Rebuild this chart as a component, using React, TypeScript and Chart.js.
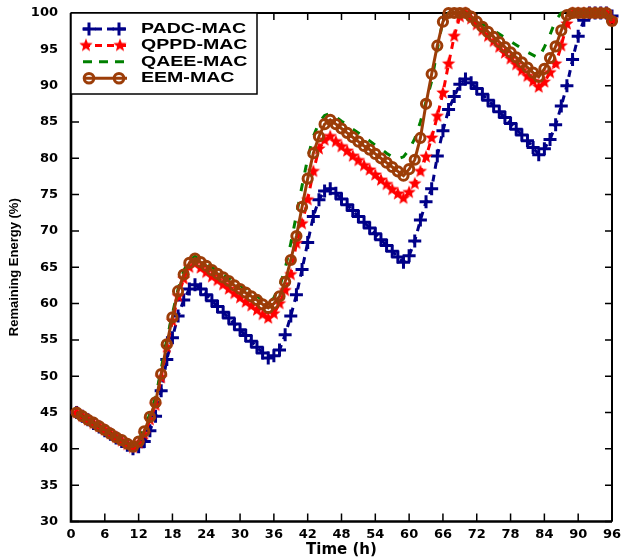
import React, { useEffect, useRef } from 'react';
import { Chart, registerables } from 'chart.js';

Chart.register(...registerables);

// Hours at which each protocol's remaining energy was sampled
const hours = [
  1, 2, 3, 4, 5, 6, 7, 8, 9, 10, 11, 12, 13, 14, 15, 16, 17, 18, 19, 20,
  21, 22, 23, 24, 25, 26, 27, 28, 29, 30, 31, 32, 33, 34, 35, 36, 37, 38, 39, 40,
  41, 42, 43, 44, 45, 46, 47, 48, 49, 50, 51, 52, 53, 54, 55, 56, 57, 58, 59, 60,
  61, 62, 63, 64, 65, 66, 67, 68, 69, 70, 71, 72, 73, 74, 75, 76, 77, 78, 79, 80,
  81, 82, 83, 84, 85, 86, 87, 88, 89, 90, 91, 92, 93, 94, 95, 96,
];

// Remaining energy (%) per protocol
const padcMac = [
  45.0, 44.5, 44.0, 43.5, 43.0, 42.5, 42.0, 41.5, 41.0, 40.5,
  40.0, 40.3, 41.0, 42.5, 44.5, 48.0, 52.3, 55.3, 58.3, 60.5,
  62.0, 62.6, 62.0, 61.2, 60.4, 59.6, 58.8, 58.0, 57.2, 56.4,
  55.6, 54.8, 54.0, 53.2, 52.5, 52.8, 53.6, 55.7, 58.3, 61.2,
  64.7, 68.4, 72.0, 74.3, 75.5, 75.8, 75.2, 74.4, 73.6, 72.8,
  72.0, 71.2, 70.4, 69.6, 68.8, 68.0, 67.2, 66.4, 65.7, 66.6,
  68.6, 71.5, 74.0, 75.8, 80.3, 83.8, 86.7, 88.5, 90.2, 90.9,
  90.4, 89.6, 88.8, 88.0, 87.2, 86.4, 85.6, 84.8, 84.0, 83.2,
  82.4, 81.5, 80.5, 81.3, 82.6, 84.6, 87.2, 90.0, 93.6, 96.8,
  99.0, 100, 100, 100, 100, 99.6,
];

const qppdMac = [
  45.0, 44.5, 44.0, 43.5, 43.1, 42.6, 42.1, 41.6, 41.1, 40.6,
  40.2, 40.8, 42.0, 44.0, 46.0, 49.8, 54.0, 57.6, 61.0, 63.4,
  65.0, 65.5, 64.9, 64.3, 63.7, 63.2, 62.6, 62.0, 61.4, 60.8,
  60.2, 59.7, 59.1, 58.5, 58.0, 58.6, 60.0, 61.8, 64.0, 68.3,
  71.0, 74.3, 78.2, 81.3, 82.5, 83.0, 82.3, 81.6, 81.0, 80.3,
  79.7, 79.0, 78.4, 77.7, 77.0, 76.4, 75.7, 75.1, 74.5, 75.3,
  76.5, 78.2, 80.2, 82.8, 85.8, 89.0, 93.0, 96.8, 99.5, 100,
  99.2, 98.4, 97.6, 96.8, 96.1, 95.3, 94.5, 93.7, 92.9, 92.1,
  91.3, 90.6, 89.8, 90.5, 91.8, 93.0, 95.5, 98.5, 100, 100,
  100, 100, 100, 100, 100, 99.0,
];

const qaeeMac = [
  45.0, 44.5, 44.0, 43.6, 43.1, 42.6, 42.1, 41.6, 41.2, 40.7,
  40.3, 41.2, 42.8, 44.8, 47.0, 51.0, 55.0, 58.6, 62.0, 64.5,
  66.0, 66.5, 66.0, 65.5, 65.0, 64.5, 64.0, 63.5, 63.0, 62.5,
  62.0, 61.5, 61.0, 60.5, 60.0, 60.8, 62.3, 64.8, 68.3, 72.2,
  76.2, 80.0, 83.0, 84.9, 85.9, 86.2, 85.7, 85.1, 84.6, 84.0,
  83.5, 82.9, 82.4, 81.8, 81.3, 80.7, 80.2, 79.9, 80.2, 81.2,
  82.7, 85.0, 87.8, 90.6, 95.0, 99.0, 100, 100, 100, 100,
  99.5, 99.0, 98.5, 98.1, 97.6, 97.1, 96.6, 96.1, 95.6, 95.1,
  94.6, 94.2, 93.8, 95.3, 97.0, 99.0, 100, 100, 100, 100,
  100, 100, 100, 100, 100, 99.2,
];

const eemMac = [
  45.0, 44.5, 44.0, 43.6, 43.1, 42.6, 42.1, 41.6, 41.2, 40.7,
  40.3, 41.0, 42.4, 44.4, 46.4, 50.3, 54.4, 58.1, 61.7, 64.0,
  65.6, 66.2, 65.7, 65.2, 64.6, 64.1, 63.6, 63.1, 62.5, 62.0,
  61.5, 61.0, 60.5, 59.9, 59.4, 60.0, 61.0, 63.0, 66.0, 69.3,
  73.3, 77.2, 80.7, 83.0, 84.7, 85.3, 84.7, 84.1, 83.5, 82.9,
  82.3, 81.7, 81.2, 80.6, 80.0, 79.4, 78.8, 78.2, 77.6, 78.5,
  79.8, 82.8, 87.5, 91.6, 95.5, 98.8, 100, 100, 100, 100,
  99.5, 98.8, 98.1, 97.4, 96.7, 96.0, 95.3, 94.6, 93.9, 93.2,
  92.5, 91.8, 91.2, 92.3, 93.8, 95.4, 97.6, 99.7, 100, 100,
  100, 100, 100, 100, 100, 98.9,
];

const seriesLabels = ['PADC-MAC', 'QPPD-MAC', 'QAEE-MAC', 'EEM-MAC'];

// Axis tick values
const xTicks = [0, 6, 12, 18, 24, 30, 36, 42, 48, 54, 60, 66, 72, 78, 84, 90, 96];
const yTicks = [30, 35, 40, 45, 50, 55, 60, 65, 70, 75, 80, 85, 90, 95, 100];

const NAVY = '#000088';
const RED = '#ff0000';
const GREEN = '#008000';
const BROWN = '#9c3d08';

function makeStar(color: string, outer: number, inner: number): HTMLCanvasElement {
  const size = Math.ceil(outer * 2 + 2);
  const c = document.createElement('canvas');
  c.width = size;
  c.height = size;
  const g = c.getContext('2d')!;
  g.beginPath();
  for (let i = 0; i < 10; i++) {
    const r = i % 2 === 0 ? outer : inner;
    const a = -Math.PI / 2 + (i * Math.PI) / 5;
    const px = size / 2 + r * Math.cos(a);
    const py = size / 2 + r * Math.sin(a);
    if (i === 0) g.moveTo(px, py);
    else g.lineTo(px, py);
  }
  g.closePath();
  g.fillStyle = color;
  g.fill();
  return c;
}

function toPoints(values: number[]) {
  return hours.map((h, i) => ({ x: h, y: values[i] }));
}

export default function App() {
  const canvasRef = useRef<HTMLCanvasElement | null>(null);

  useEffect(() => {
    document.body.style.margin = '0';
    const canvas = canvasRef.current;
    if (!canvas) return;

    const star = makeStar(RED, 7, 3);

    // Axis frame with inward tick marks on all four sides
    const framePlugin = {
      id: 'frameTicks',
      beforeDatasetsDraw(chart: any) {
        const { ctx, chartArea } = chart;
        const { left, right, top, bottom } = chartArea;
        const xs = chart.scales.x;
        const ys = chart.scales.y;
        ctx.save();
        ctx.strokeStyle = '#000';
        ctx.lineWidth = 1.5;
        ctx.beginPath();
        for (const v of xTicks) {
          const px = xs.getPixelForValue(v);
          ctx.moveTo(px, bottom);
          ctx.lineTo(px, bottom - 8);
          ctx.moveTo(px, top);
          ctx.lineTo(px, top + 7);
        }
        for (const v of yTicks) {
          const py = ys.getPixelForValue(v);
          ctx.moveTo(left, py);
          ctx.lineTo(left + 8, py);
          ctx.moveTo(right, py);
          ctx.lineTo(right - 7, py);
        }
        ctx.stroke();
        ctx.lineWidth = 2;
        ctx.beginPath();
        ctx.moveTo(left, top);
        ctx.lineTo(right, top);
        ctx.lineTo(right, bottom);
        ctx.stroke();
        ctx.lineWidth = 2.6;
        ctx.beginPath();
        ctx.moveTo(left, top);
        ctx.lineTo(left, bottom);
        ctx.lineTo(right, bottom);
        ctx.stroke();
        ctx.restore();
      },
    };

    // Boxed legend in the upper-left corner of the plot
    const legendPlugin = {
      id: 'boxLegend',
      afterDatasetsDraw(chart: any) {
        const { ctx, chartArea } = chart;
        const bx = chartArea.left;
        const by = chartArea.top;
        const bw = 186;
        const bh = 81;
        ctx.save();
        ctx.fillStyle = '#fff';
        ctx.fillRect(bx, by, bw, bh);
        ctx.strokeStyle = '#000';
        ctx.lineWidth = 1.5;
        ctx.strokeRect(bx, by, bw, bh);

        ctx.font = 'bold 14.5px "Liberation Sans", Arial, sans-serif';
        const stretch = 105 / ctx.measureText(seriesLabels[0]).width;
        const x0 = bx + 12;
        const x1 = bx + 56;
        const m0 = bx + 18;
        const m1 = bx + 48;

        seriesLabels.forEach((label, i) => {
          const y = by + 16 + i * 16.4;
          ctx.save();
          ctx.lineWidth = 3;
          if (i === 0) {
            ctx.strokeStyle = NAVY;
            ctx.setLineDash([7, 5]);
            ctx.beginPath();
            ctx.moveTo(x0, y);
            ctx.lineTo(x1, y);
            ctx.stroke();
            ctx.setLineDash([]);
            for (const m of [m0, m1]) {
              ctx.beginPath();
              ctx.moveTo(m - 6.5, y);
              ctx.lineTo(m + 6.5, y);
              ctx.moveTo(m, y - 6.5);
              ctx.lineTo(m, y + 6.5);
              ctx.stroke();
            }
          } else if (i === 1) {
            ctx.strokeStyle = RED;
            ctx.setLineDash([7, 5]);
            ctx.beginPath();
            ctx.moveTo(x0, y);
            ctx.lineTo(x1, y);
            ctx.stroke();
            for (const m of [m0 - 3, m1 + 1]) {
              ctx.drawImage(star, m - star.width / 2, y - star.height / 2);
            }
          } else if (i === 2) {
            ctx.strokeStyle = GREEN;
            ctx.setLineDash([9, 7]);
            ctx.beginPath();
            ctx.moveTo(x0, y);
            ctx.lineTo(x1, y);
            ctx.stroke();
          } else {
            ctx.strokeStyle = BROWN;
            ctx.beginPath();
            ctx.moveTo(x0, y);
            ctx.lineTo(x1, y);
            ctx.stroke();
            for (const m of [m0, m1]) {
              ctx.beginPath();
              ctx.arc(m, y, 4.8, 0, Math.PI * 2);
              ctx.stroke();
            }
          }
          ctx.restore();

          ctx.save();
          ctx.fillStyle = '#000';
          ctx.textBaseline = 'middle';
          ctx.translate(bx + 70, y);
          ctx.scale(stretch, 1);
          ctx.fillText(label, 0, 0);
          ctx.restore();
        });
        ctx.restore();
      },
    };

    const tickFont = { family: '"DejaVu Sans", sans-serif', size: 13, weight: 'bold' as const };

    const chart = new Chart(canvas, {
      type: 'line',
      data: {
        datasets: [
          {
            label: seriesLabels[0],
            data: toPoints(padcMac),
            borderColor: NAVY,
            borderWidth: 3,
            borderDash: [7, 6],
            pointStyle: 'cross',
            pointRadius: 6.5,
            pointBorderWidth: 3,
            pointBorderColor: NAVY,
            pointBackgroundColor: NAVY,
            tension: 0,
            clip: false as any,
            order: 3,
          },
          {
            label: seriesLabels[1],
            data: toPoints(qppdMac),
            borderColor: RED,
            borderWidth: 3,
            borderDash: [7, 6],
            pointStyle: star as any,
            pointRadius: 7,
            tension: 0,
            clip: false as any,
            order: 2,
          },
          {
            label: seriesLabels[2],
            data: toPoints(qaeeMac),
            borderColor: GREEN,
            borderWidth: 3,
            borderDash: [8, 11],
            pointRadius: 0,
            tension: 0,
            clip: false as any,
            order: 1,
          },
          {
            label: seriesLabels[3],
            data: toPoints(eemMac),
            borderColor: BROWN,
            borderWidth: 3,
            pointStyle: 'circle',
            pointRadius: 4.6,
            pointBorderWidth: 3,
            pointBorderColor: BROWN,
            pointBackgroundColor: 'rgba(0,0,0,0)',
            tension: 0,
            clip: false as any,
            order: 0,
          },
        ],
      },
      options: {
        responsive: false,
        animation: false,
        devicePixelRatio: 1,
        layout: { padding: { top: 13, right: 9, bottom: 0, left: 0 } },
        plugins: {
          legend: { display: false },
          tooltip: { enabled: false },
        },
        scales: {
          x: {
            type: 'linear',
            min: 0,
            max: 96,
            afterFit: (scale: any) => {
              scale.height = 38.5;
              scale.paddingLeft = 0;
              scale.paddingRight = 0;
            },
            afterBuildTicks: (scale: any) => {
              scale.ticks = xTicks.map((v) => ({ value: v }));
            },
            grid: { display: false, drawTicks: false, tickLength: 0 },
            border: { display: false },
            ticks: {
              autoSkip: false,
              maxRotation: 0,
              padding: 5,
              color: '#000',
              font: tickFont,
            },
            title: {
              display: true,
              text: 'Time (h)',
              color: '#000',
              font: { family: '"DejaVu Sans", sans-serif', size: 15, weight: 'bold' },
              padding: { top: 0, bottom: 1 },
            },
          },
          y: {
            type: 'linear',
            min: 30,
            max: 100,
            afterFit: (scale: any) => {
              scale.width = 71;
              scale.paddingTop = 0;
              scale.paddingBottom = 0;
            },
            afterBuildTicks: (scale: any) => {
              scale.ticks = yTicks.map((v) => ({ value: v }));
            },
            grid: { display: false, drawTicks: false, tickLength: 0 },
            border: { display: false },
            ticks: {
              autoSkip: false,
              padding: 13,
              color: '#000',
              font: tickFont,
            },
            title: {
              display: true,
              text: 'Remaining Energy (%)',
              color: '#000',
              font: { family: '"Liberation Sans", Arial, sans-serif', size: 13, weight: 'bold' },
              padding: { top: 7, bottom: 0 },
            },
          },
        },
      },
      plugins: [framePlugin, legendPlugin],
    });

    return () => {
      chart.destroy();
    };
  }, []);

  return (
    <div style={{ width: 622, height: 560 }}>
      <canvas ref={canvasRef} width={622} height={560} style={{ display: 'block' }} />
    </div>
  );
}
